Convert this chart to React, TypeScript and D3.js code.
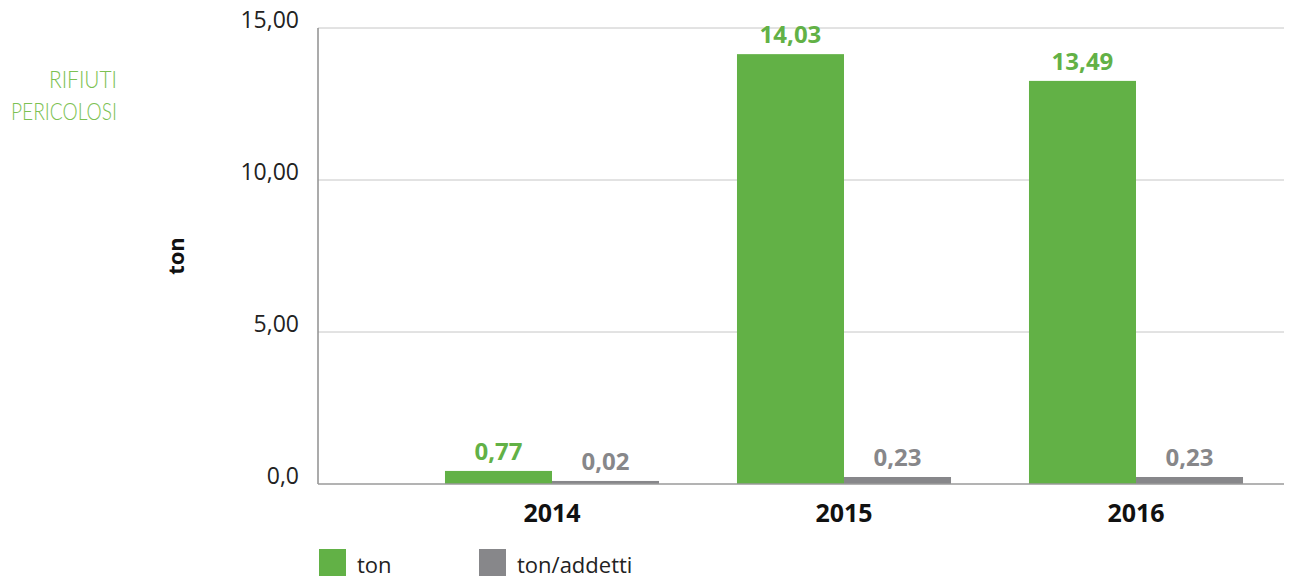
import React, { useEffect, useRef } from 'react';
import * as d3 from 'd3';

// anni e valori
const years = ['2014', '2015', '2016'];
const tonValues = [0.43, 14.14, 13.26]; // altezza delle barre come appaiono
const tonLabels = ['0,77', '14,03', '13,49'];
const perAddettoValues = [0.1, 0.23, 0.23];
const perAddettoLabels = ['0,02', '0,23', '0,23'];
const yTicks = [0, 5, 10, 15];
const yTickLabels = ['0,0', '5,00', '10,00', '15,00'];
const seriesNames = ['ton', 'ton/addetti'];

const GREEN = '#62b146';
const GREY = '#87878a';
const FONT = "'Open Sans', 'DejaVu Sans', sans-serif";

const App = () => {
  const chartRef = useRef<SVGSVGElement | null>(null);

  useEffect(() => {
    const svg = d3.select(chartRef.current);
    svg.selectAll('*').remove();

    const width = 1294;
    const marginLeft = 318;
    const right = 1284;
    const top = 28;
    const bottom = 484;

    const y = d3.scaleLinear().domain([0, 15]).range([bottom, top]);

    const x = d3.scaleBand<string>()
      .domain(years)
      .range([406, 1282])
      .paddingInner(0.267)
      .paddingOuter(0.1335);

    const xs = d3.scaleBand<string>()
      .domain(seriesNames)
      .range([0, x.bandwidth()]);

    // griglia
    svg.append('g')
      .selectAll('line')
      .data(yTicks.filter(d => d > 0))
      .join('line')
      .attr('x1', marginLeft)
      .attr('x2', right)
      .attr('y1', d => y(d))
      .attr('y2', d => y(d))
      .attr('stroke', '#c6c6c6')
      .attr('stroke-width', 1);

    // etichette asse y
    svg.append('g')
      .selectAll('text')
      .data(yTicks)
      .join('text')
      .attr('x', 299)
      .attr('y', d => y(d))
      .attr('text-anchor', 'end')
      .attr('font-family', FONT)
      .attr('font-size', 23)
      .attr('fill', '#222')
      .text((d, i) => yTickLabels[i]);

    // barre
    const series = [
      { name: seriesNames[0], values: tonValues, labels: tonLabels, color: GREEN },
      { name: seriesNames[1], values: perAddettoValues, labels: perAddettoLabels, color: GREY },
    ];

    series.forEach(s => {
      const g = svg.append('g');
      g.selectAll('rect')
        .data(years)
        .join('rect')
        .attr('x', d => (x(d) as number) + (xs(s.name) as number))
        .attr('y', (d, i) => y(s.values[i]))
        .attr('width', xs.bandwidth())
        .attr('height', (d, i) => bottom - y(s.values[i]))
        .attr('fill', s.color);

      g.selectAll('text')
        .data(years)
        .join('text')
        .attr('x', d => (x(d) as number) + (xs(s.name) as number) + xs.bandwidth() / 2)
        .attr('y', (d, i) => y(s.values[i]) - 11)
        .attr('text-anchor', 'middle')
        .attr('font-family', FONT)
        .attr('font-weight', 700)
        .attr('font-size', 24)
        .attr('fill', s.color)
        .text((d, i) => s.labels[i]);
    });

    // assi
    svg.append('line')
      .attr('x1', marginLeft).attr('x2', marginLeft)
      .attr('y1', top).attr('y2', bottom)
      .attr('stroke', '#8f8f8f').attr('stroke-width', 1.5);
    svg.append('line')
      .attr('x1', marginLeft).attr('x2', right)
      .attr('y1', bottom).attr('y2', bottom)
      .attr('stroke', '#9a9a9a').attr('stroke-width', 1.5);

    // anni
    svg.append('g')
      .selectAll('text')
      .data(years)
      .join('text')
      .attr('x', d => (x(d) as number) + x.bandwidth() / 2)
      .attr('y', 522)
      .attr('text-anchor', 'middle')
      .attr('font-family', FONT)
      .attr('font-weight', 700)
      .attr('font-size', 25)
      .attr('fill', '#111')
      .text(d => d);

    // titolo asse y
    svg.append('text')
      .attr('transform', 'translate(184,256) rotate(-90)')
      .attr('text-anchor', 'middle')
      .attr('font-family', FONT)
      .attr('font-weight', 700)
      .attr('font-size', 22)
      .attr('fill', '#111')
      .text('ton');

    // titolo a sinistra
    const title = svg.append('g')
      .attr('font-family', "Lato, 'Open Sans', sans-serif")
      .attr('font-weight', 300)
      .attr('font-size', 24)
      .attr('fill', '#7cc152')
      .attr('text-anchor', 'end');
    title.append('text').attr('x', 117).attr('y', 88)
      .attr('textLength', 68).attr('lengthAdjust', 'spacingAndGlyphs')
      .text('RIFIUTI');
    title.append('text').attr('x', 117).attr('y', 120)
      .attr('textLength', 106).attr('lengthAdjust', 'spacingAndGlyphs')
      .text('PERICOLOSI');

    // legenda
    const legendX = [319, 479];
    const legend = svg.append('g');
    series.forEach((s, i) => {
      legend.append('rect')
        .attr('x', legendX[i]).attr('y', 549)
        .attr('width', 27).attr('height', 27)
        .attr('fill', s.color);
      legend.append('text')
        .attr('x', legendX[i] + 38).attr('y', 573)
        .attr('font-family', FONT)
        .attr('font-size', 22)
        .attr('fill', '#222')
        .text(s.name);
    });

    svg.attr('viewBox', [0, 0, width, 583]);
  }, []);

  return (
    <svg
      ref={chartRef}
      width={1294}
      height={583}
      style={{ position: 'absolute', left: 0, top: 0, background: '#fff' }}
    />
  );
};

export default App;
